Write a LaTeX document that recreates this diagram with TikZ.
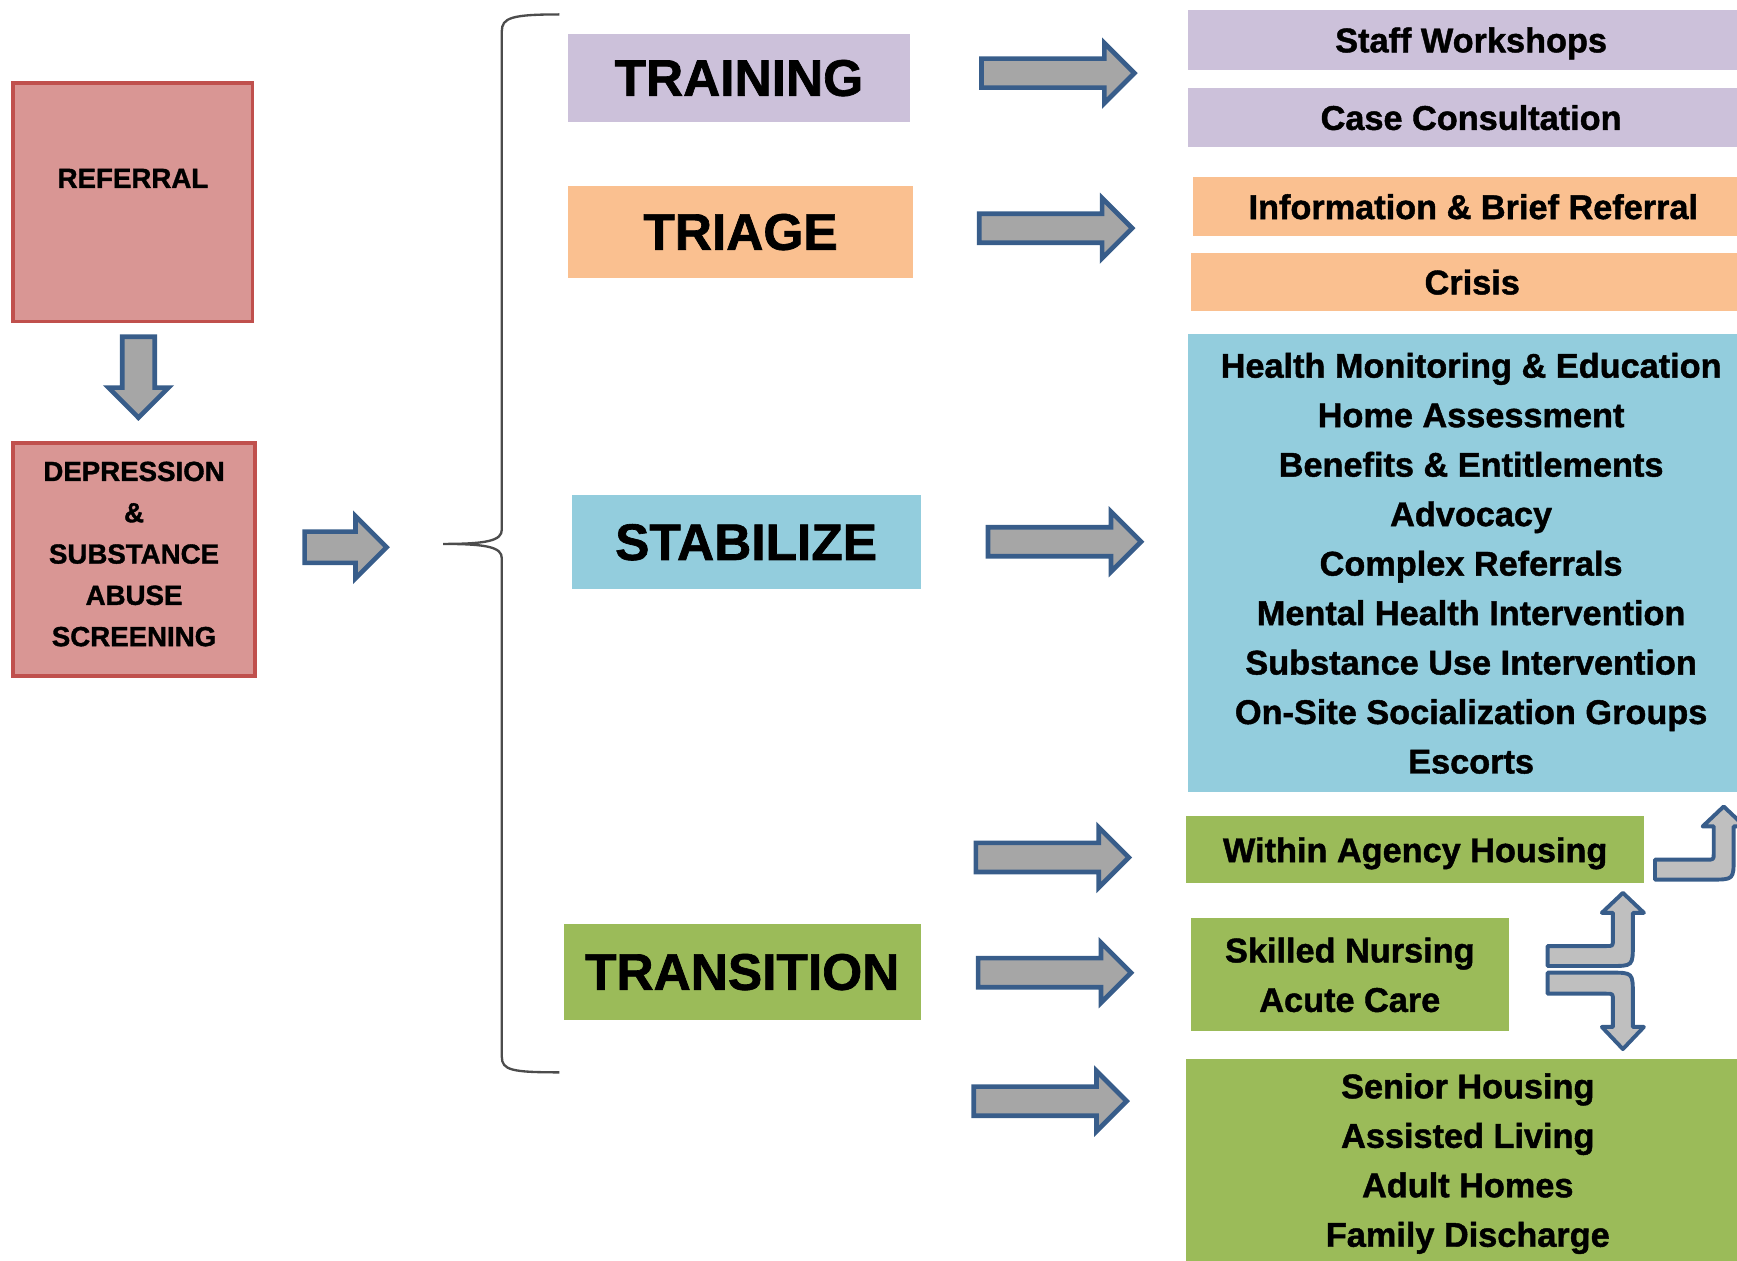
\documentclass[tikz,border=0pt]{standalone}
\usepackage{fontspec}
\setmainfont{Liberation Sans}[BoldFeatures={FakeBold=1.3}]
\usepackage{tikz}
\usetikzlibrary{shapes.arrows, positioning, arrows.meta}

\definecolor{redfill}{HTML}{D99694}
\definecolor{redline}{HTML}{C0504D}
\definecolor{lavender}{HTML}{CCC1DA}
\definecolor{peach}{HTML}{FAC090}
\definecolor{skyblue}{HTML}{93CDDD}
\definecolor{olive}{HTML}{9BBB59}
\definecolor{arrowline}{HTML}{385D8A}
\definecolor{arrowfill}{HTML}{A6A6A6}
\definecolor{bentfill}{HTML}{BFBFBF}

\begin{document}
\begin{tikzpicture}[x=0.01cm, y=-0.01cm, >=Latex,
  redbox/.style={draw=redline, line width=0.9pt, fill=redfill, align=center, inner sep=0pt, font=\fontsize{7.1}{10.6}\selectfont\bfseries},
  stage/.style={inner sep=0pt, font=\fontsize{13.2}{16}\selectfont\bfseries},
  item/.style={inner sep=0pt, align=center, font=\fontsize{8.8}{12.7}\selectfont\bfseries},
  oneline/.style={item, text depth=0pt},
  blockarrow/.style={single arrow, draw=arrowline, fill=arrowfill, line width=1.2pt, inner xsep=0pt, inner ysep=0.11cm, single arrow head extend=0.14cm, single arrow tip angle=90, minimum height=1.38cm, anchor=tip},
  bent/.style={draw=arrowline, fill=bentfill, line width=1pt, line join=round}]
  \useasboundingbox (0,0) rectangle (1568,1138);

  \node[redbox, minimum width=2.16cm, minimum height=2.15cm, text depth=0.43cm] (referral) at (120,182.5) {REFERRAL};
  \node[redbox, minimum width=2.18cm, minimum height=2.10cm, text depth=0.1cm] (screening) at (121,505) {DEPRESSION\\\&\\SUBSTANCE\\ABUSE\\SCREENING};
  \node[blockarrow, shape border rotate=270, minimum height=0.73cm, inner ysep=0pt, inner xsep=0.125cm, single arrow head extend=0.125cm] (toscreen) at (125,380) {};
  \node[blockarrow, minimum height=0.74cm, inner ysep=0.12cm, single arrow head extend=0.14cm] (tostages) at (352,494) {};

  \draw[black!70, line width=0.6pt] (505,13) .. controls (462,13) and (453,16) .. (453,28) -- (453,478)
    .. controls (453,488) and (440,491) .. (400,491) .. controls (440,491) and (453,494) .. (453,504)
    -- (453,954) .. controls (453,966) and (462,968) .. (505,968);

  \node[stage, fill=lavender, minimum width=3.08cm, minimum height=0.79cm] (training) at (667,70.5) {TRAINING};
  \node[stage, fill=peach, minimum width=3.11cm, minimum height=0.83cm] (triage) at (668.5,209.5) {TRIAGE};
  \node[stage, fill=skyblue, minimum width=3.15cm, minimum height=0.85cm] (stabilize) at (673.5,489.5) {STABILIZE};
  \node[stage, fill=olive, minimum width=3.22cm, minimum height=0.87cm] (transition) at (670,877.5) {TRANSITION};

  \node[blockarrow] (totraining) at (1027,66) {};
  \node[blockarrow] (totriage) at (1025,206) {};
  \node[blockarrow] (tostabilize) at (1033,489) {};
  \node[blockarrow] (toagency) at (1022,774) {};
  \node[blockarrow] (tonursing) at (1024,878) {};
  \node[blockarrow] (tohousing) at (1020,994) {};

  \node[oneline, fill=lavender, minimum width=5.10cm, minimum height=0.54cm] (workshops) at (1328,36) {Staff Workshops};
  \node[oneline, fill=lavender, minimum width=5.10cm, minimum height=0.54cm] (consult) at (1328,106) {Case Consultation};
  \node[oneline, fill=peach, minimum width=5.06cm, minimum height=0.53cm] (briefref) at (1330,186.5) {Information \& Brief Referral};
  \node[oneline, fill=peach, minimum width=5.08cm, minimum height=0.53cm] (crisis) at (1329,254.5) {Crisis};
  \node[item, fill=skyblue, minimum width=5.10cm, minimum height=4.13cm] (services) at (1328,508.5)
    {Health Monitoring \& Education\\Home Assessment\\Benefits \& Entitlements\\Advocacy\\Complex Referrals\\Mental Health Intervention\\Substance Use Intervention\\On-Site Socialization Groups\\Escorts};
  \node[oneline, fill=olive, minimum width=4.13cm, minimum height=0.60cm] (agency) at (1277.5,767) {Within Agency Housing};
  \node[item, fill=olive, minimum width=2.87cm, minimum height=1.02cm] (nursing) at (1218.5,880) {Skilled Nursing\\Acute Care};
  \node[item, fill=olive, minimum width=5.08cm, minimum height=1.89cm] (housing) at (1325,1050.5)
    {Senior Housing\\Assisted Living\\Adult Homes\\Family Discharge};

  \draw[bent] (1494,776) -- (1541,776) .. controls (1547,776) .. (1547,770) -- (1547,746) -- (1537,746) -- (1556,728)
    -- (1575,746) -- (1565,746) -- (1565,774) .. controls (1565,794) .. (1545,794) -- (1494,794) -- cycle;
  \draw[bent] (1397,854) -- (1450,854) .. controls (1456,854) .. (1456,848) -- (1456,824) -- (1446,824) -- (1465,806)
    -- (1484,824) -- (1474,824) -- (1474,852) .. controls (1474,872) .. (1454,872) -- (1397,872) -- cycle;
  \draw[bent] (1397,878) -- (1454,878) .. controls (1474,878) .. (1474,898) -- (1474,927) -- (1484,927) -- (1465,947)
    -- (1446,927) -- (1456,927) -- (1456,903) .. controls (1456,897) .. (1450,897) -- (1397,897) -- cycle;
\end{tikzpicture}
\end{document}
